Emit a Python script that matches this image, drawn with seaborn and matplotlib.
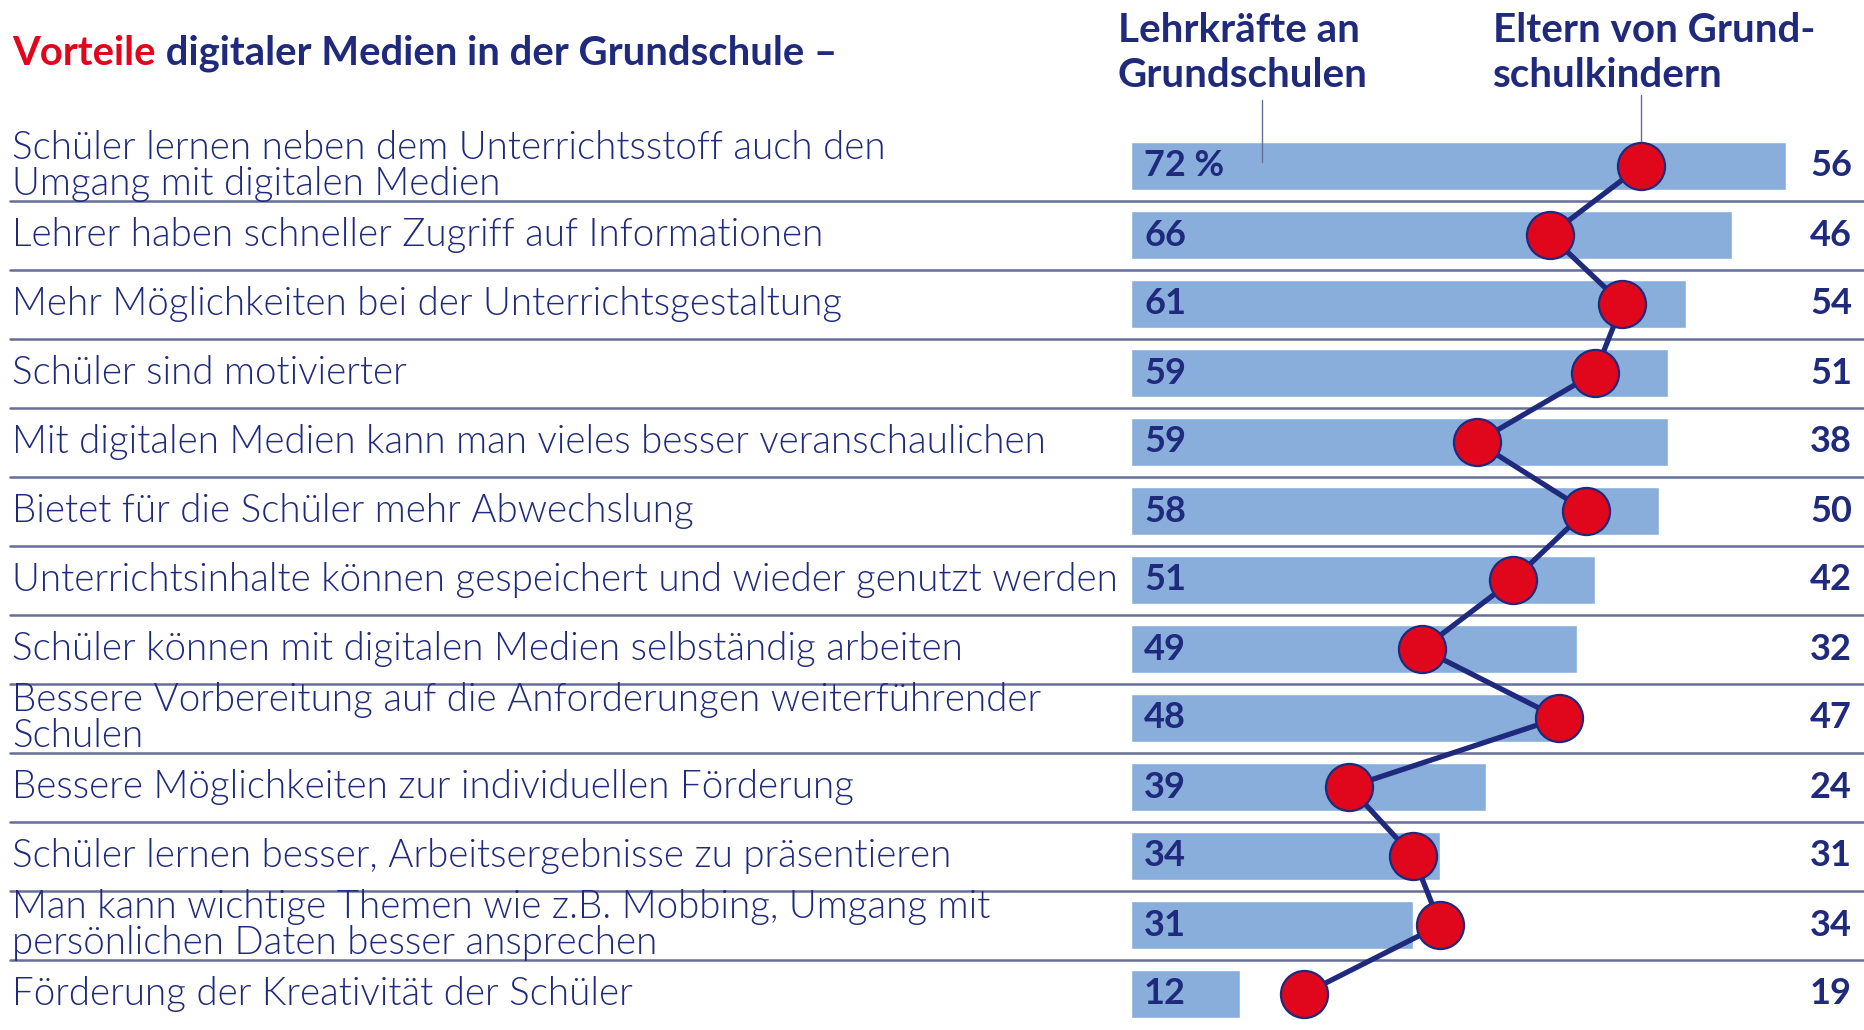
import matplotlib
matplotlib.use("Agg")
import matplotlib.pyplot as plt
import numpy as np
import pandas as pd
import seaborn as sns
from matplotlib.transforms import blended_transform_factory

# Survey answers: advantages of digital media in primary school
labels = [
    "Schüler lernen neben dem Unterrichtsstoff auch den\nUmgang mit digitalen Medien",
    "Lehrer haben schneller Zugriff auf Informationen",
    "Mehr Möglichkeiten bei der Unterrichtsgestaltung",
    "Schüler sind motivierter",
    "Mit digitalen Medien kann man vieles besser veranschaulichen",
    "Bietet für die Schüler mehr Abwechslung",
    "Unterrichtsinhalte können gespeichert und wieder genutzt werden",
    "Schüler können mit digitalen Medien selbständig arbeiten",
    "Bessere Vorbereitung auf die Anforderungen weiterführender\nSchulen",
    "Bessere Möglichkeiten zur individuellen Förderung",
    "Schüler lernen besser, Arbeitsergebnisse zu präsentieren",
    "Man kann wichtige Themen wie z.B. Mobbing, Umgang mit\npersönlichen Daten besser ansprechen",
    "Förderung der Kreativität der Schüler",
]
lehrkraefte = [72, 66, 61, 59, 59, 58, 51, 49, 48, 39, 34, 31, 12]
eltern = [56, 46, 54, 51, 38, 50, 42, 32, 47, 24, 31, 34, 19]

title_red = "Vorteile"
title_rest = " digitaler Medien in der Grundschule –"
header_lehr = "Lehrkräfte an\nGrundschulen"
header_eltern = "Eltern von Grund-\nschulkindern"

NAVY = "#1f2a7c"
RED = "#e0061c"
BAR = "#8aaedc"
RULE = "#666e98"

sns.set_theme(style="white")
plt.rcParams["font.family"] = ["Lato", "DejaVu Sans"]

W, H = 1865, 1030
fig = plt.figure(figsize=(W / 100, H / 100), dpi=100)
fig.patch.set_facecolor("white")

# plotting area: x in percent (9.1 px per point), one row every 69 px
x0_px, px_per_pct = 1131, 9.1
row_px, top_px = 69, 131.5
ax = fig.add_axes([x0_px / W, 1 - (top_px + 13 * row_px) / H,
                   (W - x0_px) / W, 13 * row_px / H])

df = pd.DataFrame({"label": labels, "lehr": lehrkraefte,
                   "eltern": eltern, "pos": np.arange(len(labels))})

sns.barplot(data=df, x="lehr", y="label", order=labels, orient="h",
            color=BAR, saturation=1, width=0.71, ax=ax, zorder=1)
sns.lineplot(data=df, x="eltern", y="pos", sort=False, estimator=None,
             color=NAVY, linewidth=3.8, ax=ax, zorder=3)
sns.scatterplot(data=df, x="eltern", y="pos", s=1150, color=RED,
                edgecolor=NAVY, linewidth=1.6, ax=ax, zorder=4)

ax.set_xlim(0, (W - x0_px) / px_per_pct)
ax.set_ylim(12.5, -0.5)
ax.set_axis_off()

fig_y = blended_transform_factory(fig.transFigure, ax.transData)

# row separators running across the whole width
for i in range(len(labels) - 1):
    ax.plot([10 / W, 1.0], [i + 0.5, i + 0.5], color=RULE, lw=1.8,
            transform=fig_y, clip_on=False, zorder=0)

# category labels
label_texts = []
for i, lab in enumerate(labels):
    t = ax.text(12 / W, i, lab, transform=fig_y, ha="left", va="center",
                color=NAVY, fontsize=20, fontweight=300,
                linespacing=1.0, clip_on=False)
    label_texts.append(t)

# teacher values inside the bars, parent values at the right
for i, (v, e) in enumerate(zip(lehrkraefte, eltern)):
    s = f"{v} %" if i == 0 else f"{v}"
    ax.annotate(s, xy=(0, i), xytext=(13, 0), textcoords="offset pixels",
                ha="left", va="center", color=NAVY, fontsize=26,
                fontweight="bold", zorder=5)
    ax.text(1852 / W, i, f"{e}", transform=fig_y, ha="right", va="center",
            color=NAVY, fontsize=26, fontweight="bold", clip_on=False)

# title
t_red = fig.text(12 / W, 1 - 72 / H, title_red, color=RED, fontsize=24,
                 fontweight="bold", ha="left", va="bottom")
t_rest = fig.text(0, 0, title_rest, color=NAVY, fontsize=24,
                  fontweight="bold", ha="left", va="bottom")

# series headers with leader lines
h_lehr = fig.text(1118 / W, 1 - 53 / H, header_lehr, color=NAVY,
                  fontsize=24, fontweight="bold", ha="left", va="center",
                  linespacing=1.28)
h_elt = fig.text(1493 / W, 1 - 53 / H, header_eltern, color=NAVY,
                 fontsize=24, fontweight="bold", ha="left", va="center",
                 linespacing=1.28)
ax.plot([14.4, 14.4], [-0.96, -0.06], color=RULE, lw=1.0,
        clip_on=False, zorder=2)
ax.plot([eltern[0], eltern[0]], [-1.03, -0.1], color=RULE, lw=1.0,
        clip_on=False, zorder=2)

# size the text to the available widths
fig.canvas.draw()
r = fig.canvas.get_renderer()


def fit(text, target_px):
    w = text.get_window_extent(r).width
    return text.get_fontsize() * target_px / w


lab_size = fit(label_texts[6], 1108)
for t in label_texts:
    t.set_fontsize(lab_size)
t_rest.set_fontsize(t_red.get_fontsize())
fig.canvas.draw()
full_w = (t_red.get_window_extent(r).width + t_rest.get_window_extent(r).width)
title_size = t_red.get_fontsize() * 824 / full_w
t_red.set_fontsize(title_size)
t_rest.set_fontsize(title_size)
hdr_size = fit(h_lehr, 250)
h_lehr.set_fontsize(hdr_size)
h_elt.set_fontsize(hdr_size)
fig.canvas.draw()
bb = t_red.get_window_extent(r)
t_rest.set_position((bb.x1 / W, bb.y0 / H))

fig.savefig("out.png", dpi=100, facecolor="white")
